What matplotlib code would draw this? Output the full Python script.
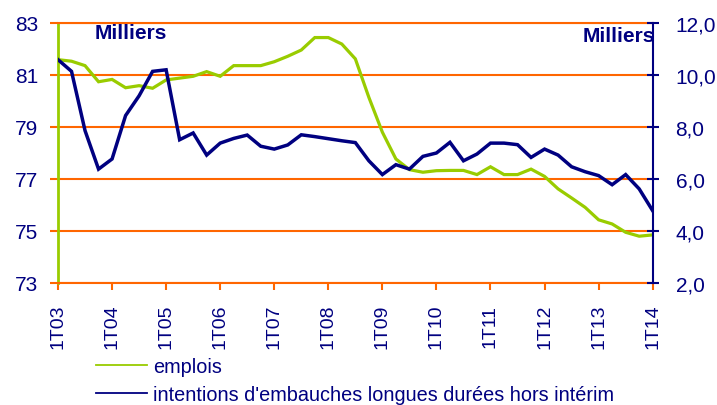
import matplotlib

matplotlib.use("Agg")
import matplotlib.pyplot as plt
from matplotlib.lines import Line2D

plt.rcParams["font.family"] = ["Liberation Sans", "DejaVu Sans"]

GREEN = "#99CC00"
NAVY = "#000080"
ORANGE = "#FF6600"

# quarterly values, 1T03 .. 1T14 (45 quarters)
emplois = [
    81.59, 81.53, 81.36, 80.74, 80.83, 80.51, 80.59, 80.49,
    80.81, 80.88, 80.95, 81.13, 80.95, 81.36, 81.36, 81.36,
    81.51, 81.72, 81.96, 82.44, 82.44, 82.19, 81.62, 80.14,
    78.80, 77.77, 77.36, 77.26, 77.32, 77.33, 77.33, 77.17,
    77.47, 77.17, 77.17, 77.38, 77.10, 76.62, 76.27, 75.91,
    75.43, 75.27, 74.95, 74.80, 74.85,
]

intentions = [
    10.59, 10.14, 7.86, 6.38, 6.77, 8.44, 9.20, 10.14,
    10.20, 7.51, 7.77, 6.92, 7.38, 7.56, 7.69, 7.26,
    7.15, 7.31, 7.70, 7.63, 7.55, 7.47, 7.40, 6.70,
    6.17, 6.55, 6.38, 6.87, 7.00, 7.41, 6.70, 6.96,
    7.38, 7.38, 7.32, 6.83, 7.15, 6.92, 6.47, 6.28,
    6.13, 5.78, 6.17, 5.62, 4.78,
]

year_labels = [
    "1T03", "1T04", "1T05", "1T06", "1T07", "1T08",
    "1T09", "1T10", "1T11", "1T12", "1T13", "1T14",
]

left_ticks = [73, 75, 77, 79, 81, 83]
right_ticks = [2, 4, 6, 8, 10, 12]

quarters = list(range(len(emplois)))
year_positions = [4 * i for i in range(len(year_labels))]

fig = plt.figure(figsize=(7.17, 4.06), dpi=100)
ax = fig.add_axes([0.0809, 0.3005, 0.8294, 0.6404])

ax.plot(quarters, emplois, color=GREEN, linewidth=2.3, solid_joinstyle="miter")
ax.set_xlim(0, 44)
ax.set_ylim(73, 83)
ax.set_yticks(left_ticks)
ax.set_yticklabels([str(v) for v in left_ticks])
ax.set_xticks(year_positions)
ax.set_xticklabels(year_labels, rotation=90)
ax.yaxis.grid(True, color=ORANGE, linewidth=1.5)
ax.set_axisbelow(True)

ax.tick_params(axis="y", colors=ORANGE, labelcolor=NAVY, labelsize=15,
               length=6, width=1.5, pad=8)
ax.tick_params(axis="x", colors=ORANGE, labelcolor=NAVY, labelsize=14,
               length=5, width=1.5, pad=10)

ax.spines["left"].set_color(GREEN)
ax.spines["left"].set_linewidth(2)
ax.spines["top"].set_color(ORANGE)
ax.spines["top"].set_linewidth(1.5)
ax.spines["bottom"].set_color(ORANGE)
ax.spines["bottom"].set_linewidth(1.5)
ax.spines["right"].set_visible(False)

ax2 = ax.twinx()
ax2.plot(quarters, intentions, color=NAVY, linewidth=2.5, solid_joinstyle="miter")
ax2.set_ylim(2, 12)
ax2.set_yticks(right_ticks)
ax2.set_yticklabels([f"{v},0" for v in right_ticks])
ax2.tick_params(axis="y", colors=NAVY, labelsize=15, direction="inout",
                length=9, width=1.5, pad=12)
for side in ["left", "top", "bottom"]:
    ax2.spines[side].set_visible(False)
ax2.spines["right"].set_color(NAVY)
ax2.spines["right"].set_linewidth(1.5)

fig.text(0.132, 0.918, "Milliers", color=NAVY, fontsize=15,
         fontweight="bold", va="center", ha="left")
fig.text(0.914, 0.911, "Milliers", color=NAVY, fontsize=15,
         fontweight="bold", va="center", ha="right")

handles = [
    Line2D([], [], color=GREEN, linewidth=1.3),
    Line2D([], [], color=NAVY, linewidth=1.3),
]
labels = ["emplois", "intentions d'embauches longues durées hors intérim"]
fig.legend(handles, labels, loc="upper left", bbox_to_anchor=(0.1333, 0.118),
           frameon=False, fontsize=14.3, labelcolor=NAVY, handlelength=2.6,
           handletextpad=0.28, labelspacing=0.45, borderaxespad=0,
           borderpad=0)

fig.savefig("out.png", dpi=100)
